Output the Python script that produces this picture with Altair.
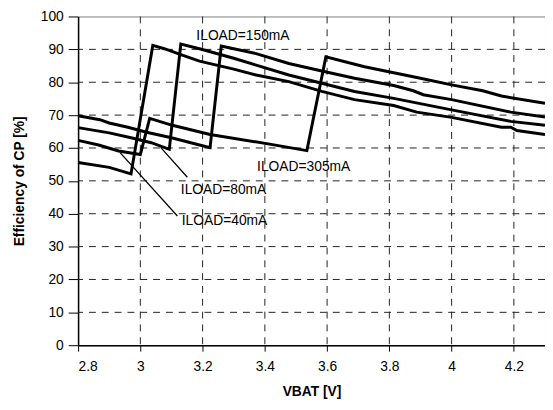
import altair as alt
import pandas as pd

# ---- data ----
v_40 = [2.8, 2.9, 2.97, 3.04, 3.077, 3.13, 3.19, 3.3, 3.372, 3.477, 3.583, 3.688, 3.814, 3.888, 4.0, 4.16, 4.19, 4.21, 4.3]
e_40 = [55.6, 54.1, 52.1, 91.2, 90.2, 88.4, 86.4, 84.0, 82.2, 80.2, 77.2, 74.7, 72.9, 70.9, 69.3, 66.3, 66.3, 65.3, 64.1]

v_80 = [2.8, 2.9, 2.97, 3.035, 3.093, 3.13, 3.19, 3.3, 3.372, 3.477, 3.583, 3.688, 3.814, 4.0, 4.19, 4.3]
e_80 = [66.2, 64.6, 63.1, 61.6, 59.6, 91.6, 90.2, 87.3, 85.2, 82.2, 79.7, 77.2, 75.1, 71.6, 68.1, 66.9]

v_150 = [2.8, 2.87, 2.9, 2.96, 3.02, 3.1, 3.19, 3.224, 3.26, 3.3, 3.372, 3.477, 3.583, 3.688, 3.814, 3.877, 3.909, 4.0, 4.19, 4.3]
e_150 = [69.8, 68.6, 67.6, 66.3, 64.8, 63.1, 60.9, 60.1, 91.0, 90.2, 88.7, 85.7, 83.4, 81.2, 79.0, 77.4, 76.2, 74.7, 70.9, 69.4]

v_305 = [2.8, 2.866, 2.93, 3.0, 3.03, 3.103, 3.224, 3.42, 3.535, 3.596, 3.72, 3.814, 3.9, 4.0, 4.1, 4.16, 4.3]
e_305 = [62.3, 60.9, 59.1, 58.0, 69.0, 66.9, 64.1, 61.1, 59.2, 87.7, 84.7, 82.9, 81.2, 79.2, 77.4, 75.8, 73.6]

x_ticks = [2.8, 3.0, 3.2, 3.4, 3.6, 3.8, 4.0, 4.2]
y_ticks = [0, 10, 20, 30, 40, 50, 60, 70, 80, 90, 100]
grid_x = [3.0, 3.2, 3.4, 3.6, 3.8, 4.0, 4.2]
grid_y = [10, 20, 30, 40, 50, 60, 70, 80, 90]

label_text = ["ILOAD=150mA", "ILOAD=305mA", "ILOAD=80mA", "ILOAD=40mA"]
label_v = [3.18, 3.375, 3.13, 3.133]
label_e = [92.7, 53.1, 46.1, 36.6]

ptr_name = ["40mA", "80mA"]
ptr_v1 = [2.935, 3.066]
ptr_e1 = [58.6, 60.1]
ptr_v2 = [3.119, 3.151]
ptr_e2 = [39.3, 51.1]

# ---- tables ----
rows = []
for name, vs, es in [("40mA", v_40, e_40), ("80mA", v_80, e_80),
                     ("150mA", v_150, e_150), ("305mA", v_305, e_305)]:
    for i, (v, e) in enumerate(zip(vs, es)):
        rows.append({"load": name, "i": i, "v": v, "e": e})
curves = pd.DataFrame(rows)
gx = pd.DataFrame({"v": grid_x})
gy = pd.DataFrame({"e": grid_y})
labels = pd.DataFrame({"t": label_text, "v": label_v, "e": label_e})
ptrs = pd.DataFrame({"n": ptr_name, "v": ptr_v1, "e": ptr_e1, "v2": ptr_v2, "e2": ptr_e2})

FONT = "Liberation Sans"
xs = alt.Scale(domain=[2.8, 4.3], nice=False, zero=False)
ys = alt.Scale(domain=[0, 100], nice=False)

xax = alt.Axis(values=x_ticks, format="~g", title="VBAT [V]", grid=False,
               labelFontSize=14, labelFont=FONT, labelColor="#000",
               tickColor="#000", tickSize=6, tickWidth=1, labelPadding=9,
               labelOverlap=False, tickCount=8,
               domainColor="#000", domainWidth=1.5,
               titleFont=FONT, titleFontSize=14, titleFontWeight="bold",
               titleColor="#000", titlePadding=11)
yax = alt.Axis(values=y_ticks, title="Efficiency of CP [%]", grid=False,
               labelFontSize=14, labelFont=FONT, labelColor="#000",
               tickColor="#000", tickSize=10, tickWidth=1, labelPadding=5,
               labelOverlap=False, tickCount=11,
               domainColor="#000", domainWidth=1.5,
               titleFont=FONT, titleFontSize=14, titleFontWeight="bold",
               titleColor="#000", titlePadding=14)

vgrid = alt.Chart(gx).mark_rule(color="#222", strokeWidth=1, strokeDash=[7, 6]).encode(
    x=alt.X("v:Q", scale=xs, axis=xax))
hgrid = alt.Chart(gy).mark_rule(color="#222", strokeWidth=1, strokeDash=[7, 6]).encode(
    y=alt.Y("e:Q", scale=ys, axis=yax))

lines = alt.Chart(curves).mark_line(color="#000", strokeWidth=3).encode(
    x=alt.X("v:Q", scale=xs, axis=xax),
    y=alt.Y("e:Q", scale=ys, axis=yax),
    detail="load:N",
    order="i:Q",
)

pointers = alt.Chart(ptrs).mark_rule(color="#000", strokeWidth=1.3).encode(
    x=alt.X("v:Q", scale=xs, axis=xax), y=alt.Y("e:Q", scale=ys, axis=yax),
    x2="v2:Q", y2="e2:Q")

texts = alt.Chart(labels).mark_text(align="left", baseline="alphabetic",
                                    font=FONT, fontSize=14, color="#000").encode(
    x=alt.X("v:Q", scale=xs, axis=xax), y=alt.Y("e:Q", scale=ys, axis=yax), text="t:N")

chart = alt.layer(vgrid, hgrid, lines, pointers, texts).properties(
    width=473, height=333,
    autosize=alt.AutoSizeParams(type="none"),
    padding={"left": 71, "top": 6, "right": 0, "bottom": 60},
    background="white",
).configure_view(stroke="#808080", strokeWidth=1)

chart.save("out.html", embed_options={"renderer": "svg", "actions": False})
